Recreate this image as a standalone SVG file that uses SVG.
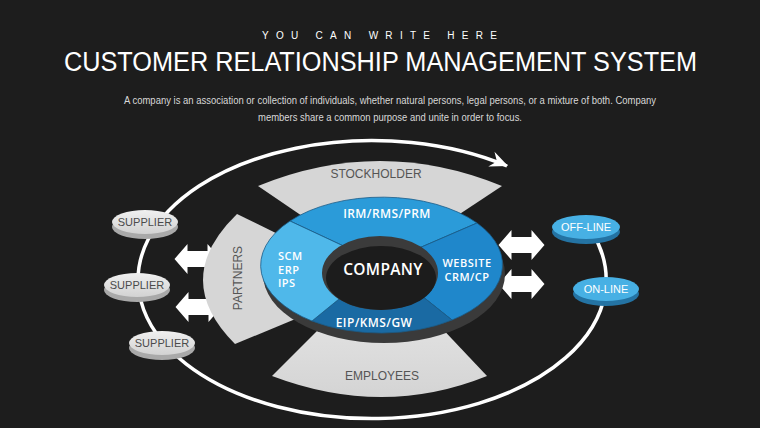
<svg xmlns="http://www.w3.org/2000/svg" width="760" height="428" viewBox="0 0 760 428">
<style>
.hdr{font-family:"Liberation Sans",Arial,sans-serif;fill:#ffffff}
.par{font-family:"Liberation Sans",Arial,sans-serif;font-size:10px;fill:#d8d8d8}
.gry{fill:#d6d6d6}
.glab{font-family:"Liberation Sans",Arial,sans-serif;font-size:12px;fill:#555555;text-anchor:middle}
.blab{font-family:"Open Sans","DejaVu Sans",sans-serif;font-size:12px;font-weight:600;fill:#ffffff;letter-spacing:0.4px}
.bsm{font-family:"Open Sans","DejaVu Sans",sans-serif;font-size:11px;font-weight:600;fill:#ffffff;letter-spacing:0.5px}
.sup{font-family:"Liberation Sans",Arial,sans-serif;font-size:11px;fill:#4a4a4a;text-anchor:middle}
.onl{font-family:"Liberation Sans",Arial,sans-serif;font-size:11px;fill:#ffffff;text-anchor:middle}
.loop{fill:none;stroke:#ffffff;stroke-width:3.5}
.arr{fill:#ffffff}
.seg{stroke:#1b5c88;stroke-width:0.8}
.sside{fill:#a9a9a9}
.bside{fill:#2473a3}
.bface{fill:#47b0e4}
</style>
<defs>
<path id="dbl" d="M-23,0 L-10,-15 L-10,-8 L10,-8 L10,-15 L23,0 L10,15 L10,8 L-10,8 L-10,15 Z"/>
<linearGradient id="supG" x1="0" y1="0" x2="0" y2="1">
<stop offset="0" stop-color="#f0f0f0"/><stop offset="1" stop-color="#d2d2d2"/>
</linearGradient>
<linearGradient id="empG" x1="0" y1="0" x2="0" y2="1">
<stop offset="0" stop-color="#e2e2e2"/><stop offset="1" stop-color="#d4d4d4"/>
</linearGradient>
</defs>
<rect width="760" height="428" fill="#1d1d1d"/>

<g id="header">
<text class="hdr" x="262" y="39" font-size="10" textLength="235" lengthAdjust="spacing">YOU CAN WRITE HERE</text>
<text class="hdr" x="64" y="71" font-size="27" textLength="633" lengthAdjust="spacingAndGlyphs">CUSTOMER RELATIONSHIP MANAGEMENT SYSTEM</text>
<text class="par" x="124" y="104" textLength="532" lengthAdjust="spacingAndGlyphs">A company is an association or collection of individuals, whether natural persons, legal persons, or a mixture of both. Company</text>
<text class="par" x="258" y="121" textLength="264" lengthAdjust="spacingAndGlyphs">members share a common purpose and unite in order to focus.</text>
</g>

<g id="connectors">
<path class="loop" d="M592,232 A234 139 0 1 1 507,166"/>
<polygon class="arr" points="508,166 494.5,151.7 496.9,161.4 488.3,166.5"/>
<use href="#dbl" class="arr" transform="translate(197.5,259)"/>
<use href="#dbl" class="arr" transform="translate(198.5,307)"/>
<use href="#dbl" class="arr" transform="translate(521.5,245)"/>
<use href="#dbl" class="arr" transform="translate(521.5,284)"/>
</g>

<g id="stockholder">
<path class="gry" d="M258,186 Q380,136 502,186 L434,231 L330,235 Z"/>
<text class="glab" x="376" y="178">STOCKHOLDER</text>
</g>

<g id="employees">
<path fill="url(#empG)" d="M272,376 Q383,418 487,376 L435,321 L330,318 Z"/>
<text class="glab" x="382" y="380">EMPLOYEES</text>
</g>

<g id="partners">
<path class="gry" d="M237,214 Q170,279 235,344 L305,315 L290,240 Z"/>
<text class="glab" transform="translate(242,278) rotate(-90)">PARTNERS</text>
</g>

<g id="company-ring">
<ellipse cx="384" cy="274" rx="121" ry="69" fill="#3a3a3a"/>
<path class="seg" fill="#2b9bd9" d="M382,264 L290,221 A121 68 0 0 1 477,223 Z"/>
<path class="seg" fill="#1f87cb" d="M382,264 L477,223 A121 68 0 0 1 452,320 Z"/>
<path class="seg" fill="#1a6aa3" d="M382,264 L452,320 A121 68 0 0 1 312,321 Z"/>
<path class="seg" fill="#4fb8ea" d="M382,264 L312,321 A121 68 0 0 1 290,221 Z"/>
<ellipse cx="380" cy="273" rx="58" ry="37" fill="#3b3b3b"/>
<ellipse cx="381" cy="278" rx="55" ry="32" fill="#1c1c1c"/>
<text x="383" y="275" text-anchor="middle" font-family="'Open Sans','DejaVu Sans',sans-serif" font-size="15.5" font-weight="600" fill="#ffffff" letter-spacing="0.3">COMPANY</text>
<text class="blab" x="387" y="218" text-anchor="middle">IRM/RMS/PRM</text>
<text class="bsm" x="278" y="260">SCM</text>
<text class="bsm" x="278" y="273.5">ERP</text>
<text class="bsm" x="278" y="287">IPS</text>
<text class="bsm" x="467" y="267" text-anchor="middle">WEBSITE</text>
<text class="bsm" x="467" y="281" text-anchor="middle">CRM/CP</text>
<text class="blab" x="374" y="327" text-anchor="middle">EIP/KMS/GW</text>
</g>

<g id="supplier1">
<ellipse class="sside" cx="145" cy="227" rx="33" ry="12"/>
<ellipse cx="145" cy="222" rx="33" ry="12" fill="url(#supG)"/>
<text class="sup" x="145" y="226">SUPPLIER</text>
</g>
<g id="supplier2">
<ellipse class="sside" cx="137" cy="290" rx="33" ry="12"/>
<ellipse cx="137" cy="285" rx="33" ry="12" fill="url(#supG)"/>
<text class="sup" x="137" y="289">SUPPLIER</text>
</g>
<g id="supplier3">
<ellipse class="sside" cx="162" cy="348" rx="33" ry="12"/>
<ellipse cx="162" cy="343" rx="33" ry="12" fill="url(#supG)"/>
<text class="sup" x="162" y="347">SUPPLIER</text>
</g>

<g id="offline">
<ellipse class="bside" cx="586" cy="232" rx="34" ry="12"/>
<ellipse class="bface" cx="586" cy="227" rx="34" ry="12"/>
<text class="onl" x="586" y="231">OFF-LINE</text>
</g>
<g id="online">
<ellipse class="bside" cx="606" cy="294" rx="33" ry="12"/>
<ellipse class="bface" cx="606" cy="289" rx="33" ry="12"/>
<text class="onl" x="606" y="293">ON-LINE</text>
</g>
</svg>
